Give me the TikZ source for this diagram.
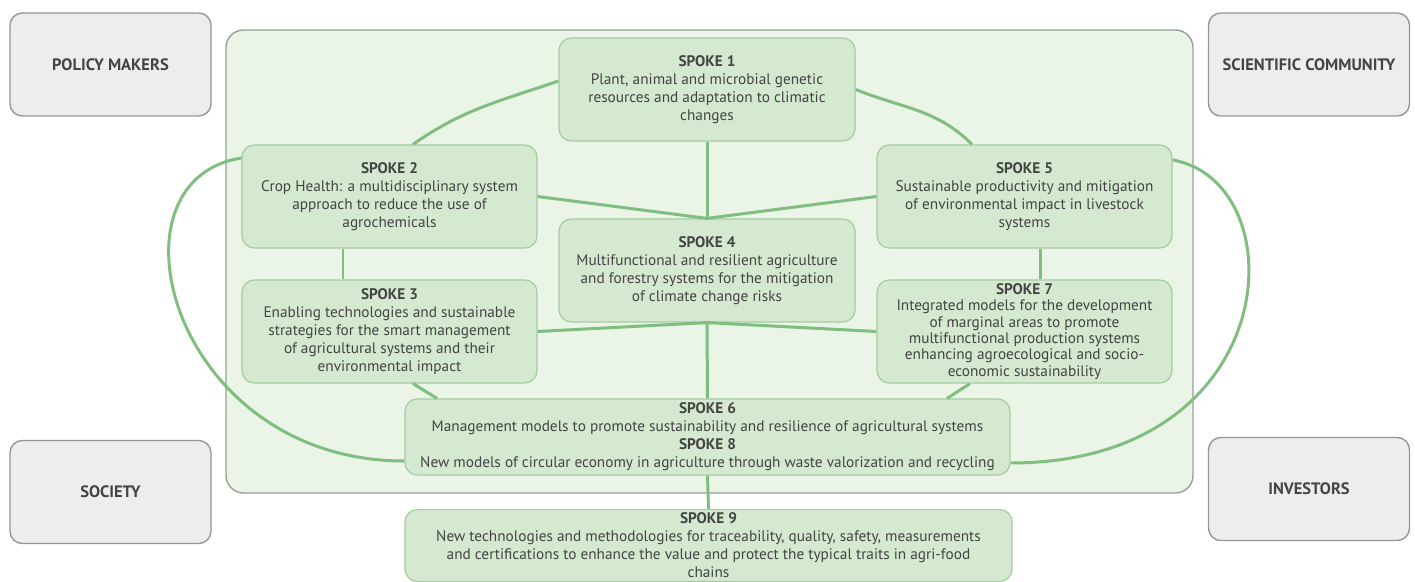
\documentclass[tikz,border=0pt]{standalone}
\usepackage{fontspec}
\setmainfont{PT Sans}
\definecolor{hubfill}{RGB}{234,244,231}
\definecolor{hubedge}{RGB}{150,160,150}
\definecolor{spokefill}{RGB}{212,233,207}
\definecolor{spokeedge}{RGB}{165,205,160}
\definecolor{actorfill}{RGB}{237,237,237}
\definecolor{actoredge}{RGB}{150,150,150}
\definecolor{linkgreen}{RGB}{128,190,128}
\definecolor{txtgray}{RGB}{68,68,68}

\begin{document}
\begin{tikzpicture}[font=\fontsize{8.7}{10.2}\selectfont,text=txtgray,
  hub/.style={draw=hubedge,fill=hubfill,line width=.8pt,rounded corners=10pt,minimum width=19.34cm,minimum height=9.26cm},
  actor/.style={draw=actoredge,fill=actorfill,line width=.8pt,rounded corners=7pt,minimum width=4.02cm,minimum height=2.06cm,font=\fontsize{9.4}{11}\selectfont\bfseries},
  spoke/.style={draw=spokeedge,fill=spokefill,line width=.7pt,rounded corners=7pt,align=center,inner sep=2pt,minimum width=5.9cm,minimum height=2.06cm},
  link/.style={draw=linkgreen,line width=1.7pt}]
\useasboundingbox (0,0) rectangle (28.3,-11.64);
\node[hub] (hub) at (14.19,-5.23) {};
\node[actor] (policy) at (2.21,-1.29) {POLICY MAKERS};
\node[actor] (science) at (26.18,-1.29) {SCIENTIFIC COMMUNITY};
\node[actor] (society) at (2.21,-9.84) {SOCIETY};
\node[actor] (investors) at (26.18,-9.78) {INVESTORS};
\node[spoke,minimum width=5.92cm] (s1) at (14.14,-1.79) {{\bfseries SPOKE 1}\\Plant, animal and microbial genetic\\resources and adaptation to climatic\\changes};
\node[spoke] (s2) at (7.79,-3.93) {{\bfseries SPOKE 2}\\Crop Health: a multidisciplinary system\\approach to reduce the use of\\agrochemicals};
\node[spoke] (s5) at (20.49,-3.93) {{\bfseries SPOKE 5}\\Sustainable productivity and mitigation\\of environmental impact in livestock\\systems};
\node[spoke,minimum width=5.92cm] (s4) at (14.14,-5.41) {{\bfseries SPOKE 4}\\Multifunctional and resilient agriculture\\and forestry systems for the mitigation\\of climate change risks};
\node[spoke] (s3) at (7.79,-6.63) {{\bfseries SPOKE 3}\\Enabling technologies and sustainable\\strategies for the smart management\\of agricultural systems and their\\environmental impact};
\node[spoke,font=\fontsize{8.7}{9.3}\selectfont] (s7) at (20.49,-6.63) {{\bfseries SPOKE 7}\\Integrated models for the development\\of marginal areas to promote\\multifunctional production systems\\enhancing agroecological and socio-\\economic sustainability};
\node[spoke,minimum width=12.1cm,minimum height=1.52cm] (s68) at (14.15,-8.74) {{\bfseries SPOKE 6}\\Management models to promote sustainability and resilience of agricultural systems\\{\bfseries SPOKE 8}\\New models of circular economy in agriculture through waste valorization and recycling};
\node[spoke,minimum width=12.14cm,minimum height=1.38cm] (s9) at (14.17,-10.91) {{\bfseries SPOKE 9}\\New technologies and methodologies for traceability, quality, safety, measurements\\and certifications to enhance the value and protect the typical traits in agri-food\\chains};
\draw[link] (s1.south) -- (s4.north);
\draw[link] (s2.east) -- (s4.north);
\draw[link] (s5.west) -- (s4.north);
\draw[link] (s3.east) -- (s4.south);
\draw[link] (s7.west) -- (s4.south);
\draw[link] (s4.south) -- (s68.north);
\draw[link] ([xshift=-.93cm]s2.south) -- ([xshift=-.93cm]s3.north);
\draw[link] ([xshift=.31cm]s5.south) -- ([xshift=.31cm]s7.north);
\draw[link] ([xshift=.47cm]s3.south) -- ([xshift=-5.41cm]s68.north);
\draw[link] ([xshift=-1.09cm]s7.south) -- ([xshift=4.79cm]s68.north);
\draw[link] ([yshift=.17cm]s1.west) to[out=199,in=35] ([xshift=.47cm]s2.north);
\draw[link] (s1.east) to[out=-22,in=135] ([xshift=-1.05cm]s5.north);
\draw[link] ([yshift=.77cm]s2.west) .. controls +(-2.84,-.44) and +(-4.66,0) .. ([yshift=-.48cm]s68.west);
\draw[link] ([yshift=.73cm]s5.east) .. controls +(2.5,-.44) and +(5.5,0) .. ([yshift=-.52cm]s68.east);
\draw[link] (s68.south) -- (s9.north);
\end{tikzpicture}
\end{document}
